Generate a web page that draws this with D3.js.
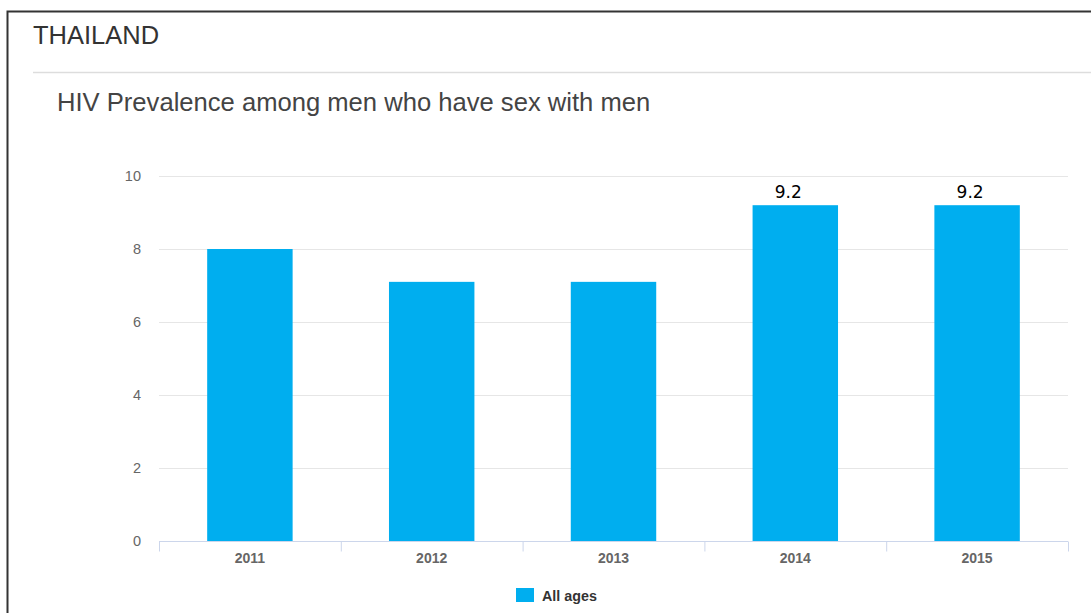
<!DOCTYPE html>
<html>
<head>
<meta charset="utf-8">
<script src="https://cdn.jsdelivr.net/npm/d3@7"></script>
<style>
  body { margin: 0; background: #fff; }
  svg { display: block; }
</style>
</head>
<body>
<svg id="chart" width="1091" height="613"></svg>
<script>
const years = ["2011", "2012", "2013", "2014", "2015"];
const prevalence = [8.0, 7.1, 7.1, 9.2, 9.2];
const labelled = [false, false, false, true, true];
const yTicks = [0, 2, 4, 6, 8, 10];
const seriesName = "All ages";

const width = 1091, height = 613;
const margin = {top: 176, right: 23, bottom: 72, left: 159};
const barColor = "#00aeef";
const font = "Liberation Sans, Arial, sans-serif";

const svg = d3.select("#chart");

// frame, heading and separator
svg.append("path")
    .attr("d", "M7.5," + height + "V11.5H" + width)
    .attr("fill", "none")
    .attr("stroke", "#333")
    .attr("stroke-width", 2);

svg.append("text")
    .attr("x", 33).attr("y", 44)
    .style("font-family", font)
    .style("font-size", "25.5px")
    .attr("fill", "#333")
    .text("THAILAND");

svg.append("line")
    .attr("x1", 33).attr("x2", width)
    .attr("y1", 72.5).attr("y2", 72.5)
    .attr("stroke", "#ddd").attr("stroke-width", 1.5);

svg.append("text")
    .attr("x", 57).attr("y", 111)
    .style("font-family", font)
    .style("font-size", "25.6px")
    .attr("fill", "#444")
    .text("HIV Prevalence among men who have sex with men");

const x = d3.scaleBand()
    .domain(years)
    .range([margin.left, width - margin.right])
    .paddingInner(0.53)
    .paddingOuter(0.265);

const y = d3.scaleLinear()
    .domain([0, 10])
    .range([height - margin.bottom, margin.top]);

// gridlines
svg.append("g")
    .selectAll("line")
    .data(yTicks.slice(1))
    .join("line")
    .attr("x1", margin.left).attr("x2", width - margin.right)
    .attr("y1", d => Math.round(y(d)) + 0.5).attr("y2", d => Math.round(y(d)) + 0.5)
    .attr("stroke", "#e6e6e6");

// y labels
svg.append("g")
    .selectAll("text")
    .data(yTicks)
    .join("text")
    .attr("x", 141)
    .attr("y", d => y(d) + 5)
    .attr("text-anchor", "end")
    .style("font-family", font)
    .style("font-size", "14.5px")
    .attr("fill", "#666")
    .text(d => d);

// bars
svg.append("g")
    .selectAll("rect")
    .data(years)
    .join("rect")
    .attr("x", d => x(d))
    .attr("width", x.bandwidth())
    .attr("y", (d, i) => y(prevalence[i]))
    .attr("height", (d, i) => y(0) - y(prevalence[i]))
    .attr("fill", barColor);

// x axis
const axisY = Math.round(y(0)) + 0.5;
const xAxis = svg.append("g");
xAxis.append("line")
    .attr("x1", margin.left).attr("x2", width - margin.right)
    .attr("y1", axisY).attr("y2", axisY)
    .attr("stroke", "#ccd6eb");
xAxis.selectAll("line.tick")
    .data(d3.range(years.length + 1))
    .join("line")
    .attr("class", "tick")
    .attr("x1", i => margin.left + i * x.step() + 0.5)
    .attr("x2", i => margin.left + i * x.step() + 0.5)
    .attr("y1", axisY).attr("y2", axisY + 10)
    .attr("stroke", "#ccd6eb");
xAxis.selectAll("text")
    .data(years)
    .join("text")
    .attr("x", d => x(d) + x.bandwidth() / 2)
    .attr("y", 563)
    .attr("text-anchor", "middle")
    .style("font-family", font)
    .style("font-size", "14px")
    .style("font-weight", "bold")
    .attr("fill", "#666")
    .text(d => d);

// data labels
svg.append("g")
    .selectAll("text")
    .data(years.filter((d, i) => labelled[i]))
    .join("text")
    .attr("x", d => x(d) + x.bandwidth() / 2 - 7)
    .attr("y", d => y(prevalence[years.indexOf(d)]) - 7)
    .attr("text-anchor", "middle")
    .style("font-family", "DejaVu Sans, sans-serif")
    .style("font-size", "17px")
    .attr("fill", "#000")
    .text(d => prevalence[years.indexOf(d)].toFixed(1));

// legend
const legend = svg.append("g").attr("transform", "translate(516,588)");
legend.append("rect")
    .attr("width", 18).attr("height", 14)
    .attr("fill", barColor);
legend.append("text")
    .attr("x", 26).attr("y", 13)
    .style("font-family", font)
    .style("font-size", "14.3px")
    .style("font-weight", "bold")
    .attr("fill", "#333")
    .text(seriesName);
</script>
</body>
</html>
